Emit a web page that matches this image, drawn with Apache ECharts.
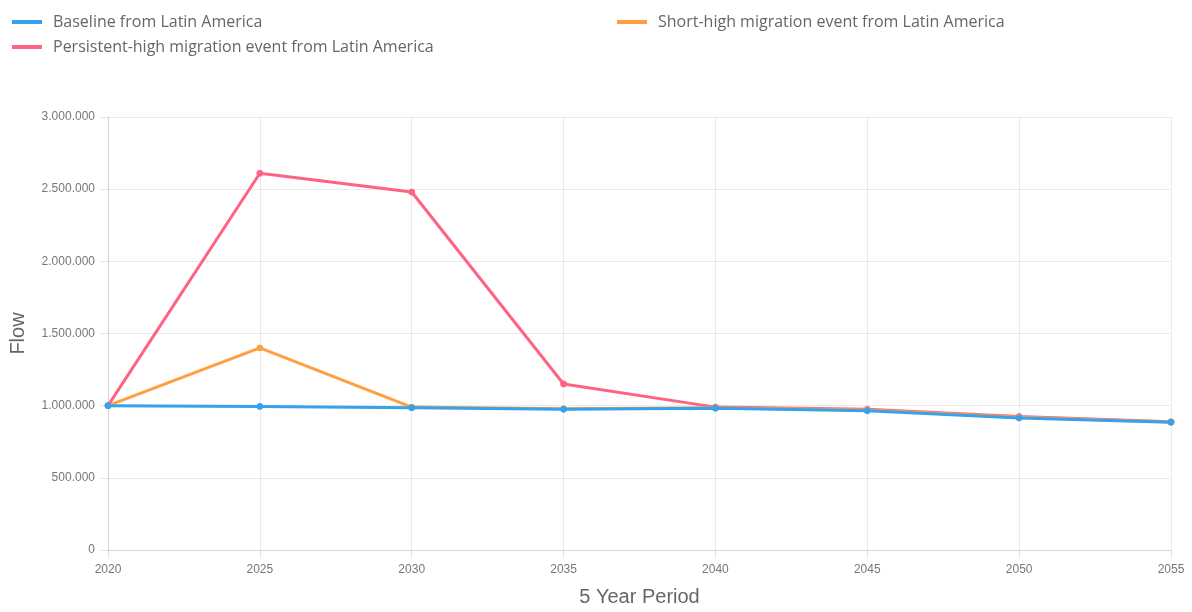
<!DOCTYPE html>
<html>
<head>
<meta charset="utf-8">
<script src="https://cdn.jsdelivr.net/npm/echarts@6/dist/echarts.min.js"></script>
<style>
  html, body { margin: 0; padding: 0; background: #fff; }
  #chart { width: 1192px; height: 612px; }
</style>
</head>
<body>
<div id="chart"></div>
<script>
// Five-year periods on the horizontal axis
const periods = ['2020', '2025', '2030', '2035', '2040', '2045', '2050', '2055'];

// Migration flow per scenario
const baseline = [1000000, 995000, 985000, 975000, 982000, 965000, 915000, 885000];
const shortHigh = [1000000, 1400000, 990000, 978000, 985000, 970000, 920000, 886000];
const persistentHigh = [1000000, 2610000, 2480000, 1150000, 990000, 975000, 925000, 888000];

const names = {
  baseline: 'Baseline from Latin America',
  shortHigh: 'Short-high migration event from Latin America',
  persistent: 'Persistent-high migration event from Latin America'
};

const colors = {
  baseline: '#36a2eb',
  shortHigh: '#ff9f40',
  persistent: '#ff6384'
};

const legendFont = '"Open Sans", "Noto Sans", sans-serif';
const axisFont = '"Liberation Sans", Arial, sans-serif';

function dotted(v) {
  return String(v).replace(/\B(?=(\d{3})+(?!\d))/g, '.');
}

function legendAt(name, left, top) {
  return {
    data: [name],
    left: left,
    top: top,
    icon: 'rect',
    itemWidth: 30,
    itemHeight: 4,
    textStyle: {
      color: '#666',
      fontSize: 16,
      lineHeight: 16,
      fontFamily: legendFont,
      padding: [0, 0, 0, 6]
    }
  };
}

function lineSeries(name, data, color, z) {
  return {
    name: name,
    type: 'line',
    data: data,
    z: z,
    symbol: 'circle',
    symbolSize: 6,
    showSymbol: true,
    lineStyle: { color: color, width: 3 },
    itemStyle: { color: color, borderColor: color },
    emphasis: { disabled: true }
  };
}

const chart = echarts.init(document.getElementById('chart'), null, { renderer: 'canvas' });

chart.setOption({
  animation: false,
  color: [colors.baseline, colors.shortHigh, colors.persistent],
  legend: [
    legendAt(names.baseline, 7, 9),
    legendAt(names.shortHigh, 612, 9),
    legendAt(names.persistent, 7, 34)
  ],
  grid: { left: 103, right: 21, top: 117, bottom: 60, containLabel: false },
  xAxis: {
    type: 'category',
    data: periods,
    boundaryGap: false,
    name: '5 Year Period',
    nameLocation: 'middle',
    nameGap: 37,
    nameTextStyle: { color: '#666', fontSize: 20, fontFamily: axisFont },
    axisLine: { show: true, lineStyle: { color: 'rgba(0,0,0,0.1)', width: 1 } },
    axisTick: { show: true, length: 8, lineStyle: { color: 'rgba(0,0,0,0.1)' } },
    axisLabel: { color: '#777', fontSize: 12, margin: 14, fontFamily: axisFont },
    splitLine: { show: true, lineStyle: { color: 'rgba(0,0,0,0.08)', width: 1 } }
  },
  yAxis: {
    type: 'value',
    min: 0,
    max: 3000000,
    interval: 500000,
    name: 'Flow',
    nameLocation: 'middle',
    nameGap: 80,
    nameRotate: 90,
    nameTextStyle: { color: '#666', fontSize: 20, fontFamily: axisFont },
    axisLine: { show: true, lineStyle: { color: 'rgba(0,0,0,0.1)', width: 1 } },
    axisTick: { show: true, length: 8, lineStyle: { color: 'rgba(0,0,0,0.1)' } },
    axisLabel: {
      color: '#777',
      fontSize: 12,
      margin: 13,
      fontFamily: axisFont,
      formatter: dotted
    },
    splitLine: { show: true, lineStyle: { color: 'rgba(0,0,0,0.08)', width: 1 } }
  },
  series: [
    lineSeries(names.persistent, persistentHigh, colors.persistent, 2),
    lineSeries(names.shortHigh, shortHigh, colors.shortHigh, 3),
    lineSeries(names.baseline, baseline, colors.baseline, 4)
  ]
});
</script>
</body>
</html>
